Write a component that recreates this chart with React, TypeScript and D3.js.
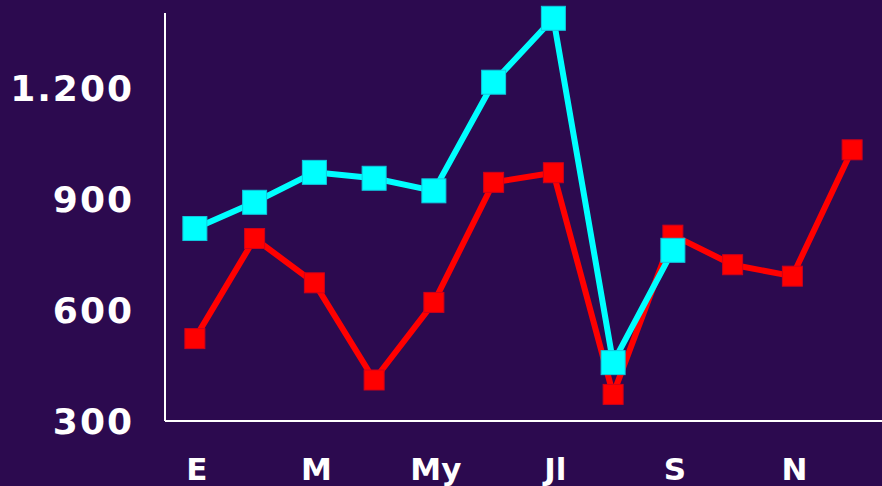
import React, { useEffect, useRef } from 'react';
import * as d3 from 'd3';

const months = ["E", "F", "M", "A", "My", "Jn", "Jl", "Ag", "S", "O", "N", "D"];
const shownMonths = ["E", "M", "My", "Jl", "S", "N"];
const redValues = [523, 794, 674, 411, 621, 946, 972, 372, 803, 723, 692, 1034];
const cyanValues = [821, 892, 973, 957, 923, 1217, 1390, 458, 762];
const yTicks = [300, 600, 900, 1200];

const W = 882;
const H = 486;

export default function App() {
  const svgRef = useRef<SVGSVGElement>(null);

  useEffect(() => {
    if (!svgRef.current) return;
    const svg = d3.select(svgRef.current);
    svg.selectAll("*").remove();

    const left = 165;
    const bottom = 421;
    const top = 13;

    svg.append("rect").attr("width", W).attr("height", H).attr("fill", "#2c0a4f");

    const x = d3.scalePoint<string>().domain(months).range([left, W]).padding(0.5);
    const y = d3.scaleLinear().domain([300, 1400]).range([bottom, 14.6]);

    // axes lines
    svg.append("line")
      .attr("x1", left).attr("x2", left).attr("y1", top).attr("y2", bottom)
      .attr("stroke", "#ffffff").attr("stroke-width", 2);
    svg.append("line")
      .attr("x1", left).attr("x2", W).attr("y1", bottom).attr("y2", bottom)
      .attr("stroke", "#ffffff").attr("stroke-width", 2);

    // y tick labels
    svg.append("g")
      .selectAll("text")
      .data(yTicks)
      .enter()
      .append("text")
      .attr("x", 134)
      .attr("y", d => y(d))
      .attr("dy", "0.36em")
      .attr("text-anchor", "end")
      .attr("fill", "#ffffff")
      .attr("font-family", "DejaVu Sans, Verdana, sans-serif")
      .attr("font-weight", "bold")
      .attr("font-size", "36px")
      .attr("letter-spacing", "2px")
      .text(d => d3.format(",")(d).replace(/,/g, "."));

    // x tick labels
    svg.append("g")
      .selectAll("text")
      .data(shownMonths)
      .enter()
      .append("text")
      .attr("x", d => x(d)! + 2)
      .attr("y", 480)
      .attr("text-anchor", "middle")
      .attr("fill", "#ffffff")
      .attr("font-family", "DejaVu Sans, Verdana, sans-serif")
      .attr("font-weight", "bold")
      .attr("font-size", "31px")
      .text(d => d);

    const drawSeries = (values: number[], color: string, edge: string, size: number) => {
      const pts = values.map((v, i) => [x(months[i])!, y(v)] as [number, number]);
      svg.append("path")
        .attr("d", d3.line()(pts))
        .attr("fill", "none")
        .attr("stroke", color)
        .attr("stroke-width", 6)
        .attr("stroke-linejoin", "round");
      svg.append("g")
        .selectAll("rect")
        .data(pts)
        .enter()
        .append("rect")
        .attr("x", d => d[0] - size / 2)
        .attr("y", d => d[1] - size / 2)
        .attr("width", size)
        .attr("height", size)
        .attr("fill", color)
        .attr("stroke", edge)
        .attr("stroke-width", 1);
    };

    drawSeries(redValues, "#ff0000", "#d0001a", 20);
    drawSeries(cyanValues, "#00ffff", "#10c8e0", 24);
  }, []);

  return (
    <div style={{ position: 'fixed', left: 0, top: 0, width: W, height: H }}>
      <svg ref={svgRef} width={W} height={H} />
    </div>
  );
}
